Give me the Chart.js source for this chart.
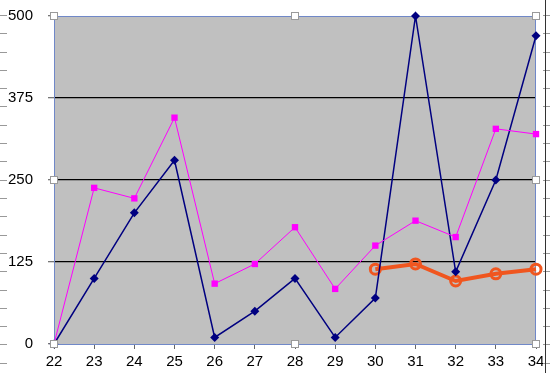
<!DOCTYPE html>
<html>
<head>
<meta charset="utf-8">
<script src="https://cdn.jsdelivr.net/npm/chart.js@4.4.0/dist/chart.umd.min.js"></script>
<style>
  html, body { margin: 0; padding: 0; background: #fff; }
  #wrap { width: 550px; height: 373px; }
</style>
</head>
<body>
<div id="wrap"><canvas id="myChart" width="550" height="373"></canvas></div>
<script>
// categories and series
var labels = ['22', '23', '24', '25', '26', '27', '28', '29', '30', '31', '32', '33', '34'];
var navySeries = [0, 100, 200, 280, 10, 50, 100, 10, 70, 500, 110, 250, 470];
var pinkSeries = [0, 238, 222, 345, 92, 122, 178, 84, 150, 188, 163, 328, 320];
var orangeSeries = [null, null, null, null, null, null, null, null, 114, 122, 96, 107, 114];
var yTicks = [0, 125, 250, 375, 500];

var frameColor = '#7088c8';

// gray plot area, frame and the little white handles
var plotArea = {
  id: 'plotArea',
  beforeDraw: function (chart) {
    var c = chart.ctx, a = chart.chartArea;
    c.save();
    c.fillStyle = '#c0c0c0';
    c.fillRect(a.left, a.top, a.right - a.left, a.bottom - a.top);
    c.restore();
  },
  beforeDatasetsDraw: function (chart) {
    var c = chart.ctx, a = chart.chartArea;
    c.save();
    c.strokeStyle = frameColor;
    c.lineWidth = 1;
    c.strokeRect(a.left + 0.5, a.top + 0.5, a.right - a.left - 1, a.bottom - a.top);
    c.restore();
  },
  afterDraw: function (chart) {
    var c = chart.ctx, a = chart.chartArea;
    var mx = Math.round((a.left + a.right) / 2), my = Math.round((a.top + a.bottom) / 2);
    var spots = [[a.left, a.top], [mx, a.top], [a.right, a.top], [a.right, my],
                 [a.right, a.bottom], [mx, a.bottom], [a.left, a.bottom], [a.left, my]];
    c.save();
    c.fillStyle = '#fff';
    c.strokeStyle = '#9a9a9a';
    c.lineWidth = 1;
    spots.forEach(function (p) {
      c.fillRect(p[0] - 3.5, p[1] - 3.5, 7, 7);
      c.strokeRect(p[0] - 3.5, p[1] - 3.5, 7, 7);
    });
    // edge ticks of the neighbouring sheets
    c.strokeStyle = '#999';
    for (var y = 15; y < 373; y += 18.3) {
      c.beginPath();
      c.moveTo(0, Math.round(y) + 0.5); c.lineTo(7, Math.round(y) + 0.5);
      c.moveTo(543, Math.round(y) + 0.5); c.lineTo(550, Math.round(y) + 0.5);
      c.stroke();
    }
    c.strokeStyle = '#333';
    c.beginPath();
    c.moveTo(545.5, 0); c.lineTo(545.5, 373);
    c.stroke();
    c.restore();
  }
};

var ctx = document.getElementById('myChart');
var chart = new Chart(ctx, {
  type: 'line',
  data: {
    labels: labels,
    datasets: [{
      data: pinkSeries,
      borderColor: '#ff00ff',
      backgroundColor: '#ff00ff',
      borderWidth: 1,
      pointStyle: 'rect',
      pointRadius: 4.5,
      pointBorderWidth: 0,
      tension: 0,
      clip: false
    }, {
      data: navySeries,
      borderColor: '#000080',
      backgroundColor: '#000080',
      borderWidth: 1.5,
      pointStyle: 'rectRot',
      pointRadius: 4.5,
      pointBorderWidth: 0,
      tension: 0,
      clip: false
    }, {
      data: orangeSeries,
      borderColor: '#f0561f',
      backgroundColor: 'rgba(0,0,0,0)',
      borderWidth: 4,
      pointStyle: 'circle',
      pointRadius: 5,
      pointBorderWidth: 3,
      tension: 0,
      clip: false
    }]
  },
  options: {
    responsive: false,
    animation: false,
    layout: { padding: { left: 0, right: 14, top: 16, bottom: 0 } },
    plugins: { legend: { display: false }, tooltip: { enabled: false } },
    scales: {
      x: {
        offset: false,
        grid: {
          drawOnChartArea: false,
          drawTicks: true,
          tickLength: 5,
          tickColor: '#666'
        },
        border: { display: false },
        ticks: {
          color: '#000',
          padding: 4,
          maxRotation: 0,
          font: { family: 'Liberation Sans, Arial, sans-serif', size: 15 }
        },
        afterFit: function (scale) {
          scale.height = 29;
          scale.paddingLeft = 0;
          scale.paddingRight = 0;
        }
      },
      y: {
        min: 0,
        max: 500,
        afterBuildTicks: function (scale) {
          scale.ticks = yTicks.map(function (v) { return { value: v }; });
        },
        grid: {
          color: function (c) {
            var v = c.tick && c.tick.value;
            return (v === 0 || v === 500) ? 'rgba(0,0,0,0)' : '#000';
          },
          tickColor: '#777',
          tickLength: 6,
          lineWidth: 1.3
        },
        border: { display: false },
        ticks: {
          color: '#000',
          padding: 15,
          font: { family: 'Liberation Sans, Arial, sans-serif', size: 15 }
        },
        afterFit: function (scale) {
          scale.width = 54;
          scale.paddingTop = 0;
          scale.paddingBottom = 0;
        }
      }
    }
  },
  plugins: [plotArea]
});
</script>
</body>
</html>
